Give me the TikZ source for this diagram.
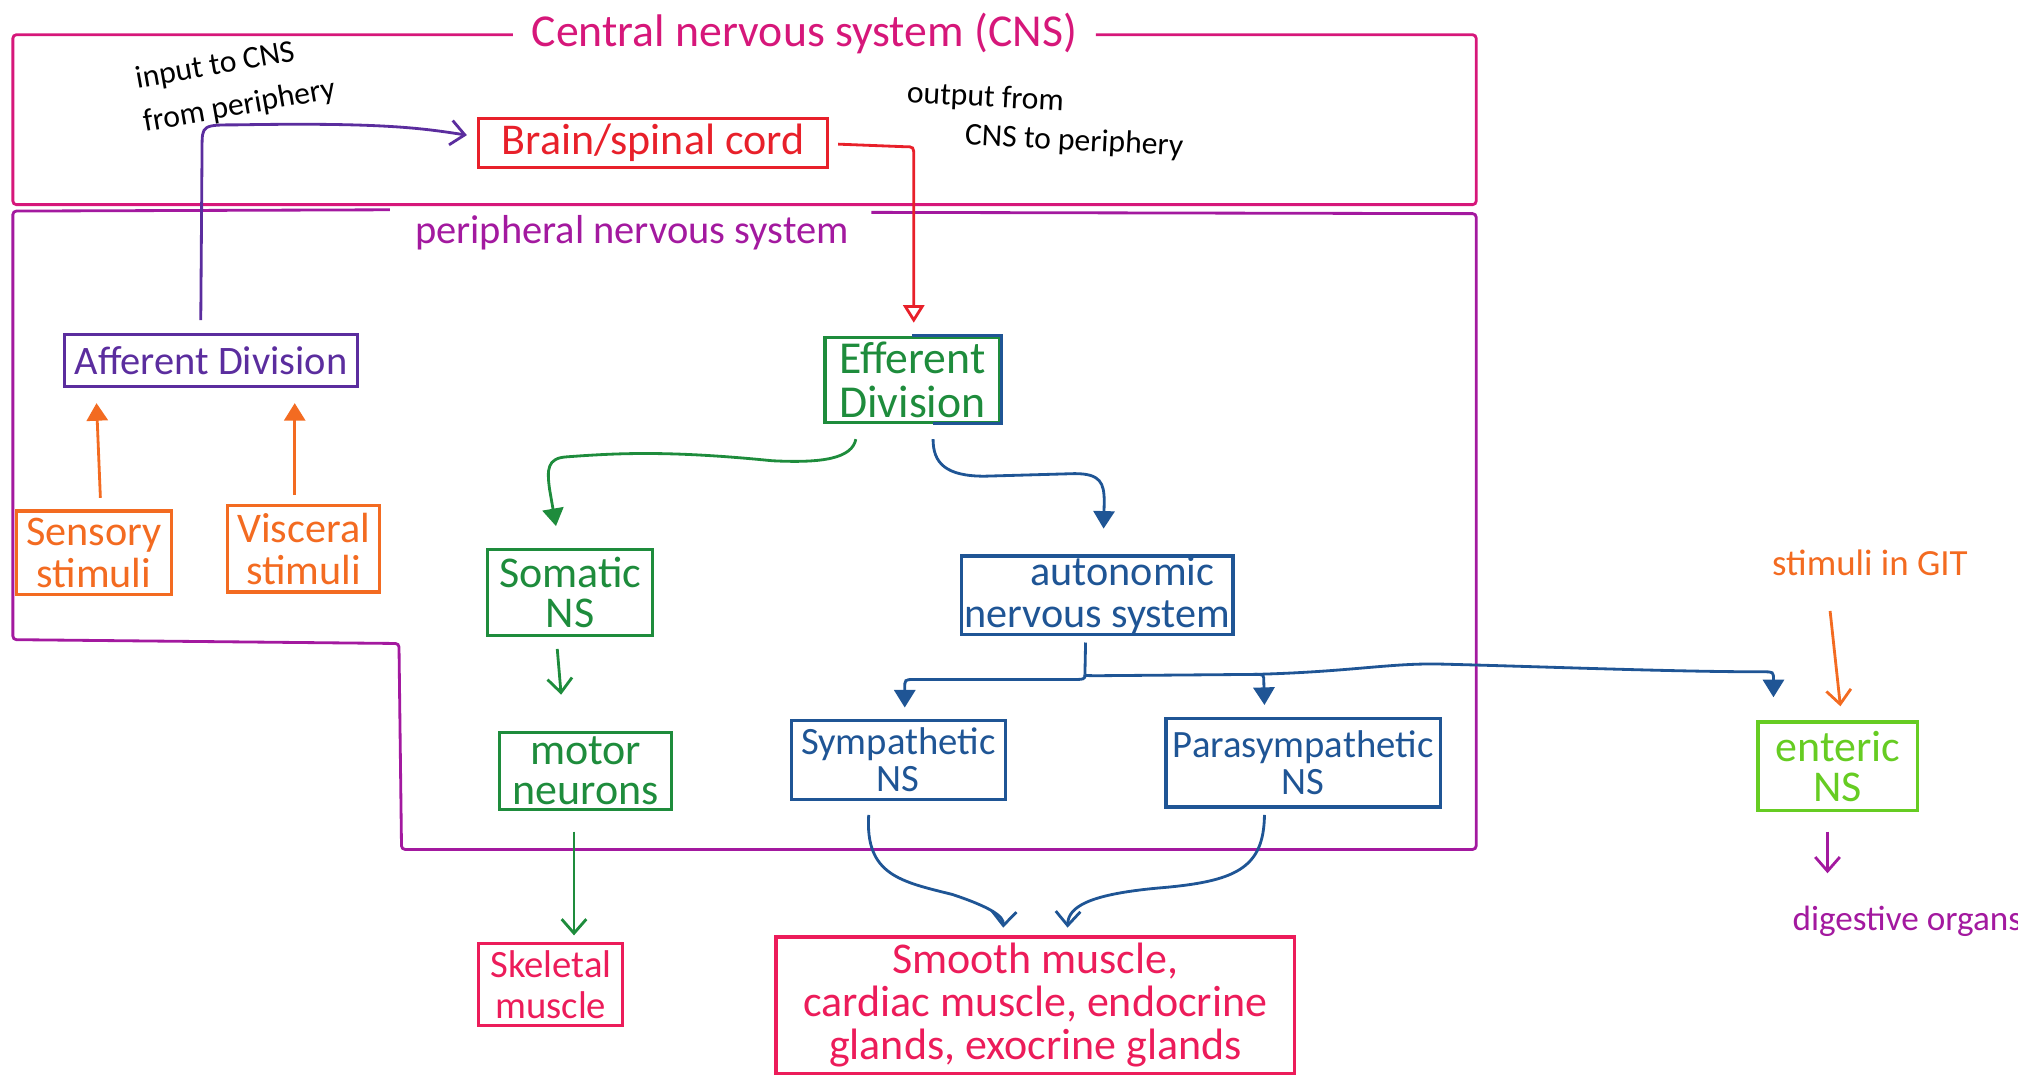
\documentclass[tikz,border=0pt]{standalone}
\usepackage{fontspec}
\setmainfont{Carlito}
\usetikzlibrary{arrows.meta,calc}
\definecolor{cnsc}{HTML}{D6177A}
\definecolor{pnsc}{HTML}{A3199F}
\definecolor{brainc}{HTML}{E8202A}
\definecolor{affc}{HTML}{5B2D9E}
\definecolor{orng}{HTML}{F36B21}
\definecolor{grn}{HTML}{1E8C3C}
\definecolor{blu}{HTML}{1F5595}
\definecolor{crim}{HTML}{EC1C5A}
\definecolor{lgrn}{HTML}{66CC22}
\newcommand{\fsz}[2]{\fontsize{#1}{#2}\selectfont}
\begin{document}
\begin{tikzpicture}[x=0.01287cm,y=-0.01287cm,
  bx/.style={draw, line width=0.9pt, inner sep=0pt, align=center},
  wh/.style 2 args={minimum width=#1*0.01287cm, minimum height=#2*0.01287cm},
  cont/.style={line width=0.8pt, rounded corners=1pt},
  con/.style={line width=0.8pt},
  tri/.style={-{Triangle[length=5pt,width=6pt]}},
  otri/.style={-{Triangle[open,length=5pt,width=6pt]}},
  barb/.style={-{Straight Barb[length=4pt,width=7pt]}},
]
\useasboundingbox (0,0) rectangle (1568,836);
% titles and annotations
\node[text=cnsc, font=\fsz{13}{15}] (cnstitle) at (625,26) {Central nervous system (CNS)};
\node[text=pnsc, font=\fsz{11.5}{13}] (pnstitle) at (491,181) {peripheral nervous system};
\node[rotate=10, align=left, font=\fsz{9}{12.5}] (inp) at (183,66) {input to CNS\\from periphery};
\node[rotate=-3, align=left, font=\fsz{9}{11}] (outp) at (812,94) {output from\\\hspace*{1.9em}CNS to periphery};
\node[text=orng, font=\fsz{10.5}{12}] (git) at (1453,437) {stimuli in GIT};
\node[text=pnsc, font=\fsz{10}{12}] (dig) at (1482,716) {digestive organs};
% containers
\draw[cont, cnsc] ($(cnstitle.west)+(-5,1)$) -- (10,27) -- (10,159) -- (1147,159) -- (1147,27) -- ($(cnstitle.east)+(5,1)$);
\draw[cont, pnsc] ($(pnstitle.west)+(-10,-18)$) -- (10,164) -- (10,497) -- (310,500) -- (312,660) -- (1147,660) -- (1147,166) -- ($(pnstitle.east)+(8,-16)$);
% boxes
\node[bx, wh={271}{38}, draw=brainc, text=brainc, font=\fsz{12.5}{14}] (brain) at (507.5,111) {Brain/spinal cord};
\node[bx, wh={228}{40}, draw=affc, text=affc, font=\fsz{11.5}{13}] (aff) at (164,280) {Afferent Division};
\node[bx, wh={120}{65}, draw=orng, text=orng, font=\fsz{12}{11.8}] (sens) at (73,429.5) {Sensory\\stimuli};
\node[bx, wh={118}{67}, draw=orng, text=orng, font=\fsz{12}{11.8}] (visc) at (236,426.5) {Visceral\\stimuli};
\node[bx, wh={136}{66}, draw=grn, text=grn, font=\fsz{13}{12.4}] (eff) at (709,295) {Efferent\\Division};
\draw[blu, line width=0.9pt] (eff.north) -- (eff.north east) -- (eff.south east) -- ($(eff.south)+(16,0)$);
\node[bx, wh={128}{67}, draw=grn, text=grn, font=\fsz{12.5}{11.5}] (som) at (443,460.5) {Somatic\\NS};
\node[bx, wh={134}{60}, draw=grn, text=grn, font=\fsz{12.5}{11.2}] (motor) at (455,599) {motor\\neurons};
\node[bx, wh={112}{64}, draw=crim, text=crim, font=\fsz{11}{11.5}] (skel) at (428,765) {Skeletal\\muscle};
\node[bx, wh={211}{61}, draw=blu, text=blu, font=\fsz{12}{12}] (ans) at (852.5,462.5) {\hspace*{1.2em}autonomic\\nervous system};
\node[bx, wh={166}{61}, draw=blu, text=blu, font=\fsz{11}{10.5}] (symp) at (698,590.5) {Sympathetic\\NS};
\node[bx, wh={213}{69}, draw=blu, text=blu, font=\fsz{11}{10.5}] (para) at (1012.5,592.5) {Parasympathetic\\NS};
\node[bx, wh={124}{69}, draw=lgrn, text=lgrn, font=\fsz{12.5}{11.5}] (ent) at (1428,595.5) {enteric\\NS};
\node[bx, wh={403}{106}, draw=crim, text=crim, font=\fsz{12.5}{12.2}] (smooth) at (804.5,781) {Smooth muscle,\\cardiac muscle, endocrine\\glands, exocrine glands};
% connectors
\draw[con, affc, barb] ($(aff.north)+(-8,-10)$) -- (157,115) .. controls (157,97) .. (185,97) .. controls (300,95) and (330,100) .. ($(brain.west)+(-8,-6)$);
\draw[con, brainc, otri] ($(brain.east)+(7,1)$) -- (703,114) .. controls (710,114) .. (710,122) -- ($(eff.north)+(1,-10)$);
\draw[con, orng, tri] ($(sens.north)+(5,-9)$) -- ($(aff.south -| sens.north)+(2,12)$);
\draw[con, orng, tri] ($(visc.north)+(-7,-7)$) -- ($(aff.south -| visc.north)+(-7,12)$);
\draw[con, grn, tri] ($(eff.south)+(-44,12)$) .. controls (662,356) and (640,360) .. (600,358) .. controls (520,350) and (480,352) .. (440,355) .. controls (425,356) and (425,365) .. (427,380) -- ($(som.north)+(-11,-17)$);
\draw[con, blu, tri] ($(eff.south)+(16,12)$) .. controls (725,360) and (735,370) .. (765,370) -- (835,368) .. controls (855,368) and (858,375) .. (858,390) -- ($(ans.north)+(5,-20)$);
\draw[con, grn, barb] ($(som.south)+(-10,9)$) -- ($(motor.north)+(-19,-28)$);
\draw[con, grn, barb] ($(motor.south)+(-9,16)$) -- ($(skel.north)+(18,-5)$);
\coordinate (br) at (843,524);
\coordinate (br2) at (975,524);
\draw[con, blu] ($(ans.south)+(-9,5)$) -- (br);
\draw[con, blu, tri] (br) .. controls (843,528) .. (830,528) -- (710,528) .. controls (703,528) .. (703,535) -- ($(symp.north)+(5,-9)$);
\draw[con, blu, tri] (br) .. controls (843,525) .. (856,525) -- (br2) .. controls (982,524) .. (982,530) -- ($(para.north)+(-30,-9)$);
\draw[con, blu, tri] (br2) .. controls (1050,522) and (1080,515) .. (1120,516) .. controls (1200,518) and (1300,522) .. (1370,522) .. controls (1378,522) .. (1378,528) -- ($(ent.north)+(-50,-18)$);
\draw[con, blu, barb] ($(symp.south)+(-23,11)$) .. controls (672,680) and (700,685) .. (740,695) .. controls (770,705) and (780,712) .. ($(smooth.north)+(-25,-6)$);
\draw[con, blu, barb] ($(para.south)+(-30,5)$) .. controls (982,675) and (960,685) .. (900,690) .. controls (845,695) and (830,705) .. ($(smooth.north)+(25,-6)$);
\draw[con, orng, barb] ($(git.south)+(-31,18)$) -- ($(ent.north)+(2,-11)$);
\draw[con, pnsc, barb] ($(ent.south)+(-8,15)$) -- ($(dig.north)+(-62,-16)$);
\end{tikzpicture}
\end{document}
